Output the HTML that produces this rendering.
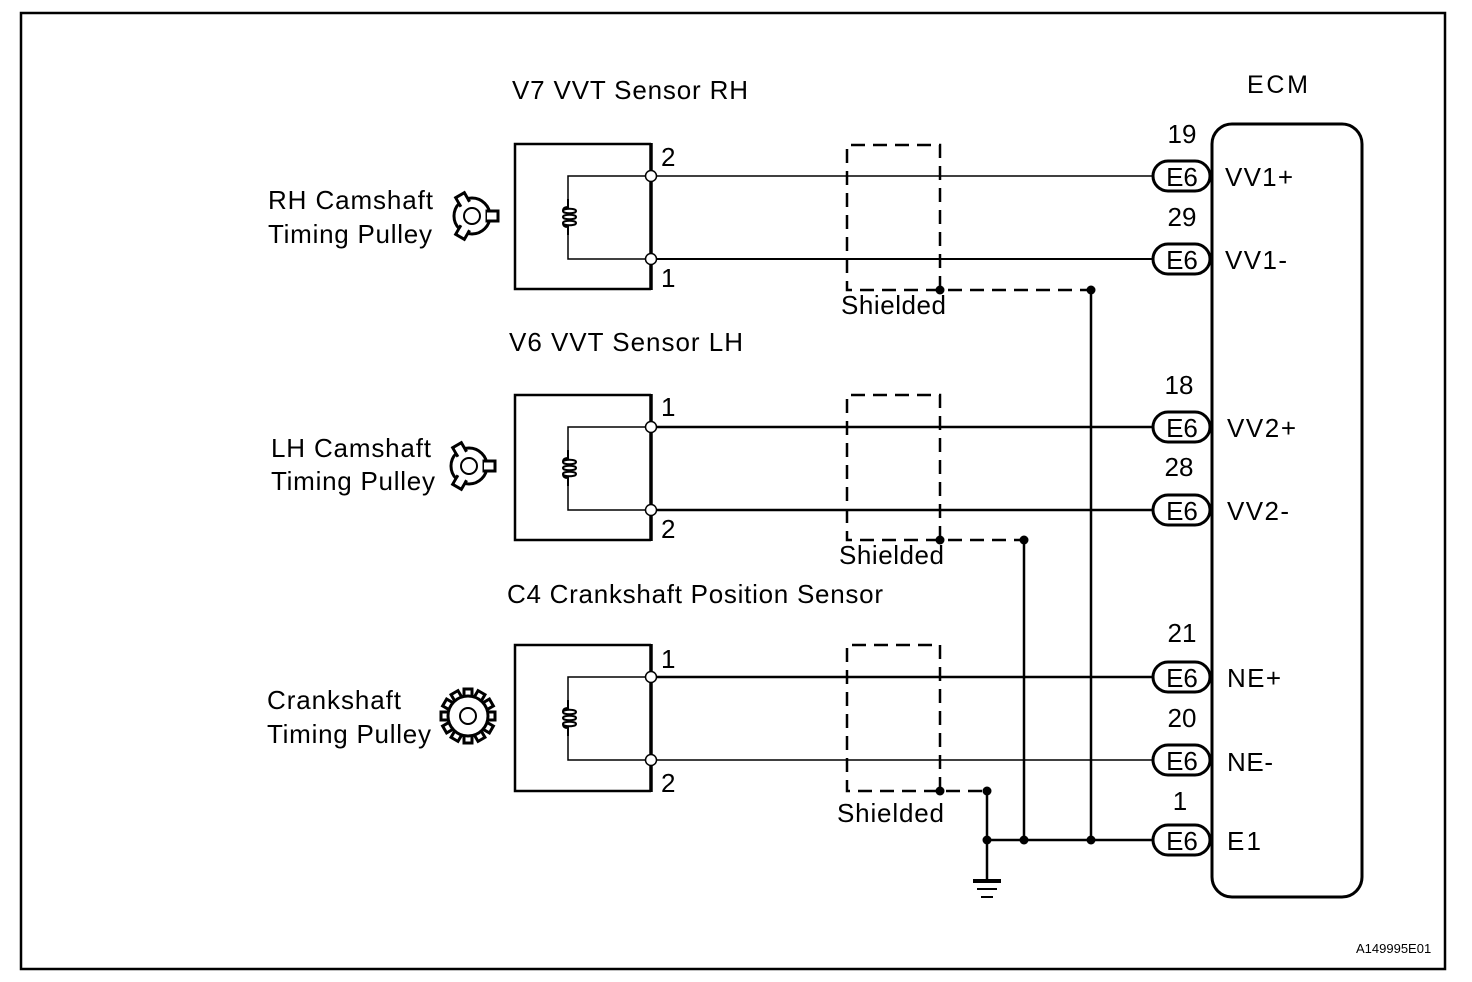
<!DOCTYPE html>
<html><head><meta charset="utf-8"><style>
html,body{margin:0;padding:0;background:#fff;}
svg{display:block;}
text{font-family:"Liberation Sans",Arial,sans-serif;fill:#000;}
</style></head><body>
<svg width="1472" height="982" viewBox="0 0 1472 982" xmlns="http://www.w3.org/2000/svg">
<defs>
<g id="coil">
<path d="M0,-18 V-10 C-4,-10 -5,-8 -5,-6 M-5,-6 C-5,-3 8,-3 8,-6 C8,-9 -5,-9 -5,-6 M-5,0 C-5,3 8,3 8,0 C8,-3 -5,-3 -5,0 M-5,6 C-5,9 8,9 8,6 C8,3 -5,3 -5,6 M-5,6 C-5,8 -4,10 0,10 V18" fill="none" stroke="#000" stroke-width="2"/>
</g>
<g id="cam">
<circle cx="0" cy="0" r="18" fill="none" stroke="#000" stroke-width="3"/>
<circle cx="0" cy="0" r="8" fill="none" stroke="#000" stroke-width="2"/>
<rect x="15" y="-5" width="11" height="10" fill="#fff" stroke="#000" stroke-width="3"/>
<rect x="15" y="-3.5" width="9" height="7" fill="#fff"/>
<g transform="rotate(120)"><rect x="15" y="-5" width="9" height="10" fill="#fff" stroke="#000" stroke-width="3"/><rect x="13" y="-3.5" width="9" height="7" fill="#fff"/></g>
<g transform="rotate(240)"><rect x="15" y="-5" width="9" height="10" fill="#fff" stroke="#000" stroke-width="3"/><rect x="13" y="-3.5" width="9" height="7" fill="#fff"/></g>
</g>
</defs>
<rect x="21" y="13" width="1424" height="956" fill="none" stroke="#000" stroke-width="2.5"/>

<rect x="1212" y="124" width="150" height="773" rx="20" fill="none" stroke="#000" stroke-width="3"/>
<text x="1247" y="93" font-size="25" textLength="61">ECM</text>

<g fill="none" stroke="#000">
<path d="M651,144 H515 V289 H651" stroke-width="2.5"/><line x1="651" y1="143" x2="651" y2="290" stroke-width="3.5"/>
<path d="M651,395 H515 V540 H651" stroke-width="2.5"/><line x1="651" y1="394" x2="651" y2="541" stroke-width="3.5"/>
<path d="M651,645 H515 V791 H651" stroke-width="2.5"/><line x1="651" y1="644" x2="651" y2="792" stroke-width="3.5"/>
<path d="M651,176 H568 V200 M568,235 V259 H651" stroke-width="1.5"/>
<path d="M651,427 H568 V451 M568,486 V510 H651" stroke-width="1.5"/>
<path d="M651,677 H568 V701 M568,736 V760 H651" stroke-width="1.5"/>
<line x1="651" y1="176" x2="1155" y2="176" stroke-width="1.5"/>
<line x1="651" y1="259" x2="1155" y2="259" stroke-width="2"/>
<line x1="651" y1="427" x2="1155" y2="427" stroke-width="2.5"/>
<line x1="651" y1="510" x2="1155" y2="510" stroke-width="2.5"/>
<line x1="651" y1="677" x2="1155" y2="677" stroke-width="2.5"/>
<line x1="651" y1="760" x2="1155" y2="760" stroke-width="1.5"/>
<g stroke-width="2.5" stroke-dasharray="14,8">
<path d="M940,290 V145 H847 V290 H1091"/>
<path d="M940,540 V395 H847 V540 H1024"/>
<path d="M940,791 V645 H847 V791 H987"/>
</g>
<g stroke-width="2.5">
<line x1="1091" y1="290" x2="1091" y2="840"/>
<line x1="1024" y1="540" x2="1024" y2="840"/>
<line x1="987" y1="791" x2="987" y2="880"/>
<line x1="987" y1="840" x2="1155" y2="840"/>
<line x1="973" y1="881" x2="1001" y2="881" stroke-width="4"/>
<line x1="977" y1="889" x2="997" y2="889" stroke-width="2"/>
<line x1="981" y1="897" x2="993" y2="897" stroke-width="2"/>
</g>
</g>
<use href="#coil" x="568" y="217"/>
<use href="#coil" x="568" y="468"/>
<use href="#coil" x="568" y="718"/>
<g fill="#fff" stroke="#000" stroke-width="1.5">
<circle cx="651" cy="176" r="5.5"/><circle cx="651" cy="259" r="5.5"/>
<circle cx="651" cy="427" r="5.5"/><circle cx="651" cy="510" r="5.5"/>
<circle cx="651" cy="677" r="5.5"/><circle cx="651" cy="760" r="5.5"/>
</g>
<g fill="#000">
<circle cx="940" cy="290" r="4.5"/><circle cx="1091" cy="290" r="4.5"/>
<circle cx="940" cy="540" r="4.5"/><circle cx="1024" cy="540" r="4.5"/>
<circle cx="940" cy="791" r="4.5"/><circle cx="987" cy="791" r="4.5"/>
<circle cx="987" cy="840" r="4.5"/><circle cx="1024" cy="840" r="4.5"/><circle cx="1091" cy="840" r="4.5"/>
</g>
<g fill="#fff" stroke="#000" stroke-width="3">
<rect x="1153" y="161" width="57" height="30" rx="15"/>
<rect x="1153" y="244" width="57" height="30" rx="15"/>
<rect x="1153" y="412" width="57" height="30" rx="15"/>
<rect x="1153" y="495" width="57" height="30" rx="15"/>
<rect x="1153" y="662" width="57" height="30" rx="15"/>
<rect x="1153" y="745" width="57" height="30" rx="15"/>
<rect x="1153" y="825" width="57" height="30" rx="15"/>
</g>
<g font-size="26" text-anchor="middle">
<text x="1182" y="186">E6</text><text x="1182" y="269">E6</text>
<text x="1182" y="437">E6</text><text x="1182" y="520">E6</text>
<text x="1182" y="687">E6</text><text x="1182" y="770">E6</text>
<text x="1182" y="850">E6</text>
<text x="1182" y="143">19</text><text x="1182" y="226">29</text>
<text x="1179" y="394">18</text><text x="1179" y="476">28</text>
<text x="1182" y="642">21</text><text x="1182" y="727">20</text>
<text x="1180" y="810">1</text>
</g>
<g font-size="26">
<text x="1225" y="186" textLength="68">VV1+</text><text x="1225" y="269" textLength="62">VV1-</text>
<text x="1227" y="437" textLength="69">VV2+</text><text x="1227" y="520" textLength="62">VV2-</text>
<text x="1227" y="687" textLength="54">NE+</text><text x="1227" y="771" textLength="46">NE-</text>
<text x="1227" y="850" textLength="34">E1</text>
<text x="661" y="166">2</text><text x="661" y="287">1</text>
<text x="661" y="416">1</text><text x="661" y="538">2</text>
<text x="661" y="668">1</text><text x="661" y="792">2</text>
<text x="512" y="99" textLength="236">V7 VVT Sensor RH</text>
<text x="509" y="351" textLength="234">V6 VVT Sensor LH</text>
<text x="507" y="603" textLength="376">C4 Crankshaft Position Sensor</text>
<text x="841" y="314" textLength="105">Shielded</text>
<text x="839" y="564" textLength="105">Shielded</text>
<text x="837" y="822" textLength="107">Shielded</text>
<text x="268" y="209" textLength="165">RH Camshaft</text><text x="268" y="243" textLength="164">Timing Pulley</text>
<text x="271" y="457" textLength="160">LH Camshaft</text><text x="271" y="490" textLength="164">Timing Pulley</text>
<text x="267" y="709" textLength="134">Crankshaft</text><text x="267" y="743" textLength="164">Timing Pulley</text>
</g>
<text x="1356" y="953" font-size="13">A149995E01</text>
<use href="#cam" x="472" y="216"/>
<use href="#cam" x="469" y="466"/>
<g transform="translate(468,716)">
<circle r="20" fill="none" stroke="#000" stroke-width="3"/>
<circle r="8" fill="none" stroke="#000" stroke-width="2"/>
<g stroke="#000" stroke-width="3" fill="none">
<path d="M-4,-20 V-27 H4 V-20" transform="rotate(0)"/>
<path d="M-4,-20 V-27 H4 V-20" transform="rotate(30)"/>
<path d="M-4,-20 V-27 H4 V-20" transform="rotate(60)"/>
<path d="M-4,-20 V-27 H4 V-20" transform="rotate(90)"/>
<path d="M-4,-20 V-27 H4 V-20" transform="rotate(120)"/>
<path d="M-4,-20 V-27 H4 V-20" transform="rotate(150)"/>
<path d="M-4,-20 V-27 H4 V-20" transform="rotate(180)"/>
<path d="M-4,-20 V-27 H4 V-20" transform="rotate(210)"/>
<path d="M-4,-20 V-27 H4 V-20" transform="rotate(240)"/>
<path d="M-4,-20 V-27 H4 V-20" transform="rotate(270)"/>
<path d="M-4,-20 V-27 H4 V-20" transform="rotate(300)"/>
<path d="M-4,-20 V-27 H4 V-20" transform="rotate(330)"/>
</g>
</g>
</svg>
</body></html>
